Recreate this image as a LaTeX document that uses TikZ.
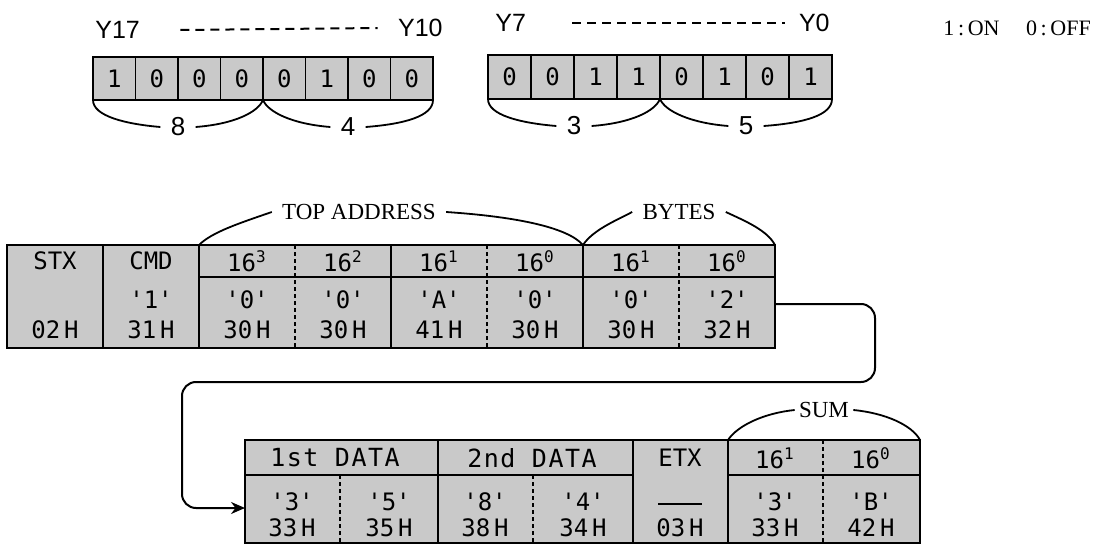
\documentclass[tikz,border=0pt]{standalone}
\usepackage{fontspec}
\setmainfont{Liberation Serif}
\newfontfamily\lsans{Liberation Sans}
\newfontfamily\cellfont{DejaVu Sans Mono}
\newfontfamily\cellwide[LetterSpace=6]{DejaVu Sans Mono}
\usetikzlibrary{arrows.meta}

\tikzset{
  cellfill/.style={fill=black!21},
  border/.style={line width=1.1pt},
  sep/.style={line width=0.8pt},
  dsep/.style={line width=0.8pt, dash pattern=on 2pt off 1.5pt},
  celltxt/.style={font=\cellfont\fontsize{12}{14}\selectfont, inner sep=0pt},
  widetxt/.style={font=\cellwide\fontsize{12.5}{14}\selectfont, inner sep=0pt},
  ylabel/.style={font=\lsans\fontsize{12.5}{14}\selectfont, inner sep=0pt},
  numlbl/.style={font=\lsans\fontsize{13}{14}\selectfont, inner sep=0pt},
  serlbl/.style={font=\fontsize{11.5}{13}\selectfont, inner sep=0pt},
  bracket/.style={line width=0.9pt},
  dashline/.style={line width=1pt, dash pattern=on 4.5pt off 3pt},
  flow/.style={line width=1pt, rounded corners=7pt, -{Stealth[length=7pt,width=6pt]}},
}

\begin{document}
\begin{tikzpicture}[x=0.5pt, y=-0.5pt]
\useasboundingbox (0,0) rectangle (1100,546);

% ---------- bit labels ----------
\node[ylabel, anchor=west] (y17) at (95,30) {Y17};
\node[ylabel, anchor=east] (y10) at (443,28) {Y10};
\node[ylabel, anchor=west] (y7) at (495,23) {Y7};
\node[ylabel, anchor=east] (y0) at (830,23) {Y0};
\draw[dashline] ([xshift=20pt]y17.east) -- ([xshift=-10pt]y10.west);
\draw[dashline] ([xshift=23pt]y7.east) -- ([xshift=-7pt]y0.west);

% ---------- bit rows ----------
\draw[border, cellfill] (93,57) rectangle (433,100);
\foreach \k in {1,...,7} \draw[sep] ({93+42.5*\k},57) -- ({93+42.5*\k},100);
\foreach \v [count=\i from 0] in {1,0,0,0,0,1,0,0}
  \node[celltxt] (a\i) at ({114.25+42.5*\i},78.5) {\v};

\draw[border, cellfill] (488,55) rectangle (832,99);
\foreach \k in {1,...,7} \draw[sep] ({488+43*\k},55) -- ({488+43*\k},99);
\foreach \v [count=\i from 0] in {0,0,1,1,0,1,0,1}
  \node[celltxt] (b\i) at ({509.5+43*\i},77) {\v};

% braces under bit rows
\node[numlbl] (n8) at (178,127) {8};
\node[numlbl] (n4) at (348,127) {4};
\node[numlbl] (n3) at (574,126) {3};
\node[numlbl] (n5) at (746,126) {5};
\draw[bracket] (93,100) .. controls (93,116) and (125,124) .. ([xshift=-5pt]n8.west);
\draw[bracket] ([xshift=5pt]n8.east) .. controls (235,124) and (258,112) .. (263,100);
\draw[bracket] (263,100) .. controls (268,112) and (292,124) .. ([xshift=-5pt]n4.west);
\draw[bracket] ([xshift=5pt]n4.east) .. controls (405,124) and (433,116) .. (433,100);
\draw[bracket] (488,99) .. controls (488,115) and (520,123) .. ([xshift=-5pt]n3.west);
\draw[bracket] ([xshift=5pt]n3.east) .. controls (632,123) and (655,111) .. (660,99);
\draw[bracket] (660,99) .. controls (665,111) and (690,123) .. ([xshift=-5pt]n5.west);
\draw[bracket] ([xshift=5pt]n5.east) .. controls (805,123) and (832,115) .. (832,99);

\node[serlbl, font=\fontsize{11}{12}\selectfont, anchor=west] (onoff) at (943,28) {1\,:\,ON\hspace{1.2em}0\,:\,OFF};

% ---------- first frame ----------
\draw[border, cellfill] (7,245) rectangle (775,348);
\draw[sep] (199,277) -- (775,277);
\draw[sep] (103,245) -- (103,348);
\draw[sep] (199,245) -- (199,348);
\draw[dsep] (295,245) -- (295,348);
\draw[sep] (391,245) -- (391,348);
\draw[dsep] (487,245) -- (487,348);
\draw[sep] (583,245) -- (583,348);
\draw[dsep] (679,245) -- (679,348);

\node[celltxt] (stx) at (55,261) {STX};
\node[celltxt] (stxh) at (55,330) {02\,H};
\node[celltxt] (cmd) at (151,261) {CMD};
\node[celltxt] (cmdc) at (151,300) {'1'};
\node[celltxt] (cmdh) at (151,330) {31\,H};
\foreach \x/\e/\c/\hx [count=\i] in {247/3/0/30,343/2/0/30,439/1/A/41,535/0/0/30,631/1/0/30,727/0/2/32} {
  \node[celltxt] (ph\i) at (\x,261) {16\textsuperscript{\e}};
  \node[celltxt] (pc\i) at (\x,300) {'\c'};
  \node[celltxt] (px\i) at (\x,330) {\hx\,H};
}

\node[serlbl] (topaddr) at (359,212) {TOP ADDRESS};
\node[serlbl] (bytes) at (679,212) {BYTES};
\draw[bracket] (199,245) .. controls (212,232) and (240,223) .. ([xshift=-5pt]topaddr.west);
\draw[bracket] ([xshift=5pt]topaddr.east) .. controls (520,217) and (568,228) .. (583,245);
\draw[bracket] (583,245) .. controls (593,230) and (615,221) .. ([xshift=-5pt]bytes.west);
\draw[bracket] ([xshift=5pt]bytes.east) .. controls (745,221) and (767,230) .. (775,245);

% ---------- second frame ----------
\draw[border, cellfill] (245,440) rectangle (920,543);
\draw[sep] (245,475) -- (633,475);
\draw[sep] (728,475) -- (920,475);
\draw[dsep] (340,475) -- (340,543);
\draw[sep] (438,440) -- (438,543);
\draw[dsep] (533,475) -- (533,543);
\draw[sep] (633,440) -- (633,543);
\draw[sep] (728,440) -- (728,543);
\draw[dsep] (823,440) -- (823,543);

\node[widetxt] (d1) at (335,458) {1st DATA};
\node[widetxt] (d2) at (532,458) {2nd DATA};
\node[celltxt] (etx) at (680,458) {ETX};
\node[inner sep=0pt] (etxc) at (680,504) {\rule{22pt}{0.8pt}};
\node[celltxt] (etxh) at (680,528) {03\,H};
\node[celltxt] (s1) at (775,458) {16\textsuperscript{1}};
\node[celltxt] (s0) at (871,458) {16\textsuperscript{0}};
\foreach \x/\c/\hx [count=\i] in {292/3/33,389/5/35,485/8/38,583/4/34,775/3/33,871/B/42} {
  \node[celltxt] (qc\i) at (\x,502) {'\c'};
  \node[celltxt] (qx\i) at (\x,528) {\hx\,H};
}

\node[serlbl] (sum) at (824,410) {SUM};
\draw[bracket] (728,440) .. controls (738,425) and (765,413) .. ([xshift=-2pt]sum.west);
\draw[bracket] ([xshift=2pt]sum.east) .. controls (885,413) and (912,425) .. (920,440);

% ---------- connector ----------
\coordinate (from) at (775,304);
\coordinate (to) at (245,508);
\draw[flow] (from) -- (875,304) -- (875,382) -- (182,382) -- (182,508) -- (to);

\end{tikzpicture}
\end{document}
